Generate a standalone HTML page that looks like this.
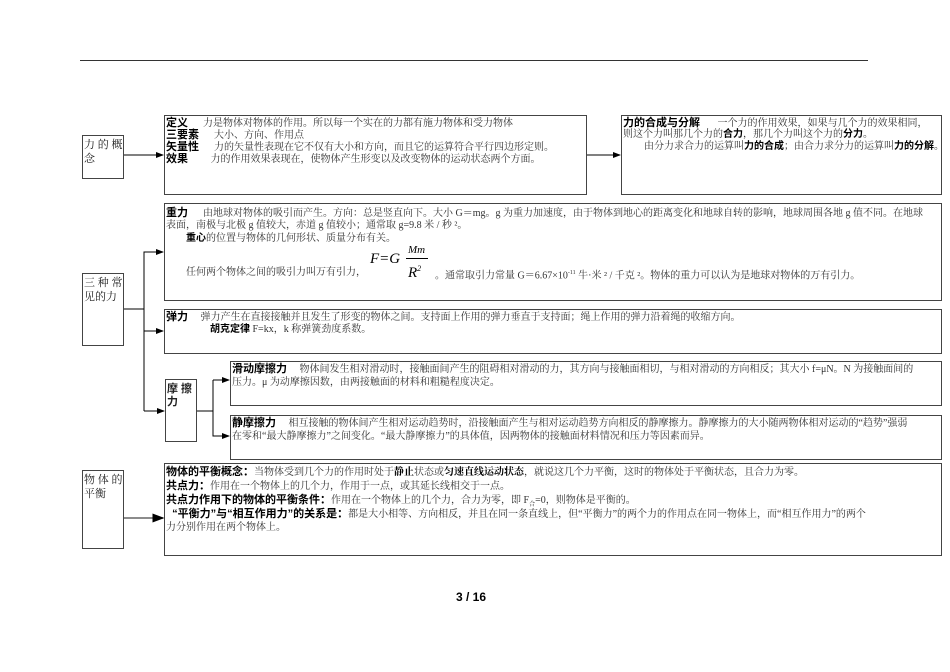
<!DOCTYPE html>
<html><head><meta charset="utf-8"><style>
body{margin:0;background:#fff;}
#p{position:relative;width:950px;height:672px;overflow:hidden;font-family:"Liberation Serif","Noto Serif CJK SC","Noto Sans CJK SC",serif;color:#333;}
.b{position:absolute;border:1px solid #444;box-sizing:border-box;background:#fff;}
.t{position:absolute;font-size:10px;line-height:12px;white-space:nowrap;}
.h{font-family:"Liberation Sans","Noto Sans CJK SC",sans-serif;font-weight:bold;color:#000;font-size:11px;}
.s{font-size:10px;}
.k{font-family:"Liberation Sans","Noto Sans CJK SC",sans-serif;font-weight:bold;color:#000;}
.lab{position:absolute;left:0;top:1px;font-size:11px;line-height:14px;padding:1px;color:#222;white-space:nowrap;}
svg{position:absolute;left:0;top:0;}
</style></head><body><div id="p">
<div style="position:absolute;left:80px;top:60px;width:788px;height:1px;background:#333"></div>

<div class="b" style="left:82px;top:135px;width:42px;height:44px"><div class="lab">力 的 概<br>念</div></div>
<div class="b" style="left:164px;top:115px;width:423px;height:80px">
<div class="t" style="left:1px;top:1px"><span class="h">定义</span>&nbsp;&nbsp;&nbsp;&nbsp;&nbsp;&nbsp;力是物体对物体的作用。所以每一个实在的力都有施力物体和受力物体</div>
<div class="t" style="left:1px;top:13px"><span class="h">三要素</span>&nbsp;&nbsp;&nbsp;&nbsp;&nbsp;&nbsp;大小、方向、作用点</div>
<div class="t" style="left:1px;top:25px"><span class="h">矢量性</span>&nbsp;&nbsp;&nbsp;&nbsp;&nbsp;&nbsp;力的矢量性表现在它不仅有大小和方向，而且它的运算符合平行四边形定则。</div>
<div class="t" style="left:1px;top:37px"><span class="h">效果</span>&nbsp;&nbsp;&nbsp;&nbsp;&nbsp;&nbsp;&nbsp;&nbsp;&nbsp;力的作用效果表现在，使物体产生形变以及改变物体的运动状态两个方面。</div>
</div>
<div class="b" style="left:621px;top:115px;width:321px;height:80px">
<div class="t" style="left:1px;top:1px"><span class="h">力的合成与分解</span>&nbsp;&nbsp;&nbsp;&nbsp;&nbsp;&nbsp;&nbsp;一个力的作用效果，如果与几个力的效果相同，</div>
<div class="t" style="left:1px;top:13px">则这个力叫那几个力的<span class="k">合力</span>，那几个力叫这个力的<span class="k">分力</span>。</div>
<div class="t" style="left:22px;top:25px">由分力求合力的运算叫<span class="k">力的合成</span>；由合力求分力的运算叫<span class="k">力的分解</span>。</div>
</div>

<div class="b" style="left:82px;top:273px;width:42px;height:73px"><div class="lab">三 种 常<br>见的力</div></div>
<div class="b" style="left:164px;top:203px;width:778px;height:98px">
<div class="t" style="left:1px;top:3px"><span class="h">重力</span>&nbsp;&nbsp;&nbsp;&nbsp;&nbsp;&nbsp;由地球对物体的吸引而产生。方向：总是竖直向下。大小 G＝mg。g 为重力加速度，由于物体到地心的距离变化和地球自转的影响，地球周围各地 g 值不同。在地球</div>
<div class="t" style="left:1px;top:16px">表面，南极与北极 g 值较大，赤道 g 值较小；通常取 g=9.8 米 / 秒 ²。</div>
<div class="t" style="left:21px;top:29px"><span class="k">重心</span>的位置与物体的几何形状、质量分布有关。</div>
<div class="t" style="left:205px;top:46px;font-size:15px;line-height:18px;font-style:italic;color:#000">F=G</div>
<div class="t" style="left:243px;top:40px;font-size:11px;font-style:italic;color:#000">Mm</div>
<div style="position:absolute;left:241px;top:54px;width:22px;height:1px;background:#000"></div>
<div class="t" style="left:243px;top:57px;font-size:15px;line-height:16px;font-style:italic;color:#000">R<sup style="font-size:8px">2</sup></div>
<div class="t" style="left:21px;top:63px">任何两个物体之间的吸引力叫万有引力，</div>
<div class="t" style="left:270px;top:63px">。通常取引力常量 G＝6.67×10<sup style="font-size:6px">-11</sup> 牛·米 ² / 千克 ²。物体的重力可以认为是地球对物体的万有引力。</div>
</div>
<div class="b" style="left:164px;top:309px;width:778px;height:45px">
<div class="t" style="left:1px;top:1px"><span class="h">弹力</span>&nbsp;&nbsp;&nbsp;&nbsp;&nbsp;<span class="s">弹力产生在直接接触并且发生了形变的物体之间。支持面上作用的弹力垂直于支持面；绳上作用的弹力沿着绳的收缩方向。</span></div>
<div class="t" style="left:45px;top:14px"><span class="k s">胡克定律</span><span class="s"> F=kx，k 称弹簧劲度系数。</span></div>
</div>
<div class="b" style="left:165px;top:379px;width:32px;height:63px"><div class="lab h" style="top:2px;line-height:13px">摩 擦<br>力</div></div>
<div class="b" style="left:230px;top:361px;width:712px;height:45px">
<div class="t" style="left:1px;top:1px"><span class="h">滑动摩擦力</span>&nbsp;&nbsp;&nbsp;&nbsp;&nbsp;<span class="s">物体间发生相对滑动时，接触面间产生的阻碍相对滑动的力，其方向与接触面相切，与相对滑动的方向相反；其大小 f=μN。N 为接触面间的</span></div>
<div class="t s" style="left:1px;top:15px">压力。μ 为动摩擦因数，由两接触面的材料和粗糙程度决定。</div>
</div>
<div class="b" style="left:230px;top:415px;width:712px;height:45px">
<div class="t" style="left:1px;top:1px"><span class="h">静摩擦力</span>&nbsp;&nbsp;&nbsp;&nbsp;&nbsp;<span class="s">相互接触的物体间产生相对运动趋势时，沿接触面产生与相对运动趋势方向相反的静摩擦力。静摩擦力的大小随两物体相对运动的“趋势”强弱</span></div>
<div class="t s" style="left:1px;top:15px">在零和“最大静摩擦力”之间变化。“最大静摩擦力”的具体值，因两物体的接触面材料情况和压力等因素而异。</div>
</div>

<div class="b" style="left:82px;top:470px;width:42px;height:79px"><div class="lab">物 体 的<br>平衡</div></div>
<div class="b" style="left:164px;top:463px;width:778px;height:93px">
<div class="t" style="left:1px;top:2px"><span class="h">物体的平衡概念：</span><span class="s">当物体受到几个力的作用时处于<b style="color:#000">静止</b>状态或<b style="color:#000">匀速直线运动状态</b>，就说这几个力平衡，这时的物体处于平衡状态，且合力为零。</span></div>
<div class="t" style="left:1px;top:16px"><span class="h">共点力：</span><span class="s">作用在一个物体上的几个力，作用于一点，或其延长线相交于一点。</span></div>
<div class="t" style="left:1px;top:30px"><span class="h">共点力作用下的物体的平衡条件：</span><span class="s">作用在一个物体上的几个力，合力为零，即 F<sub style="font-size:6px">合</sub>=0，则物体是平衡的。</span></div>
<div class="t" style="left:1px;top:44px"><span class="h">&nbsp;&nbsp;“平衡力”与“相互作用力”的关系是：</span><span class="s">都是大小相等、方向相反，并且在同一条直线上，但“平衡力”的两个力的作用点在同一物体上，而“相互作用力”的两个</span></div>
<div class="t s" style="left:1px;top:58px">力分别作用在两个物体上。</div>
</div>

<svg width="950" height="672">
<defs><marker id="a" markerWidth="8" markerHeight="6" refX="7" refY="3" orient="auto"><path d="M0,0L8,3L0,6z" fill="#000"/></marker></defs>
<g stroke="#000" stroke-width="1" fill="none">
<path d="M124,155H163" marker-end="url(#a)"/>
<path d="M587,155H620" marker-end="url(#a)"/>
<path d="M124,309H144V411"/>
<path d="M144,309V252H163" marker-end="url(#a)"/>
<path d="M144,331H163" marker-end="url(#a)"/>
<path d="M144,411H164" marker-end="url(#a)"/>
<path d="M197,411H213V380"/>
<path d="M213,380H229" marker-end="url(#a)"/>
<path d="M213,411V436H229" marker-end="url(#a)"/>
<path d="M124,518H163" marker-end="url(#a)" stroke="#666" stroke-width="1.5"/>
</g></svg>
<div class="t" style="left:456px;top:591px;font-family:'Liberation Sans',sans-serif;font-weight:bold;font-size:12px;color:#000">3 / 16</div>
</div></body></html>
